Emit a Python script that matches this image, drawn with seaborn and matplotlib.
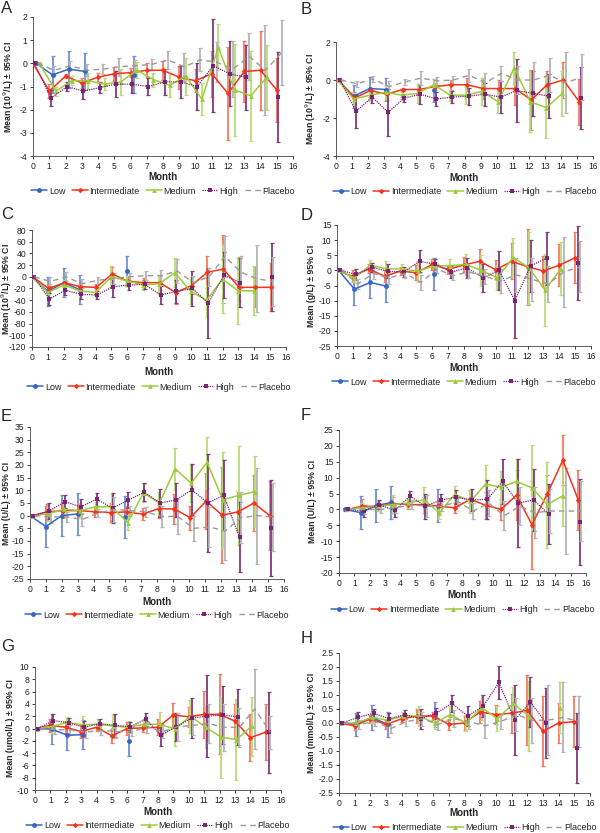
import numpy as np
import pandas as pd
import seaborn as sns
import matplotlib
matplotlib.use("Agg")
import matplotlib.pyplot as plt
from matplotlib.lines import Line2D

MONTHS = list(range(16))
SERIES = ["Low", "Intermediate", "Medium", "High", "Placebo"]
N = None

# ---- Panel A (10^9/L) ----
A_LOW = [0, -0.5, -0.25, -0.35, N, N, -0.5, N, N, N, N, N, N, N, N, N]
A_LOW_CI = [0, 0.8, 0.8, 0.8, N, N, 0.8, N, N, N, N, N, N, N, N, N]
A_INT = [0, -1.2, -0.55, -0.85, -0.6, -0.45, -0.4, -0.3, -0.3, -0.6, -0.75, -0.45, -1.3, -0.35, -0.3, -1.15]
A_INT_CI = [0, 0.3, 0.1, 0.2, 0.2, 0.3, 0.2, 0.3, 0.4, 0.5, 0.5, 1.0, 2.0, 1.3, 1.7, 1.4]
A_MED = [0, -1.2, -0.75, -0.75, -0.9, -0.8, -0.3, -0.7, -0.95, -0.55, -1.55, 0.7, -1.15, -1.4, -0.6, N]
A_MED_CI = [0, 0.2, 0.2, 0.35, 0.25, 0.55, 0.35, 0.3, 0.5, 0.8, 0.7, 1.0, 2.0, 1.95, 1.4, N]
A_HIGH = [0, -1.5, -1.0, -1.2, -1.05, -0.9, -0.9, -1.0, -0.8, -0.8, -1.0, -0.1, -0.45, -0.6, N, -1.45]
A_HIGH_CI = [0, 0.35, 0.2, 0.35, 0.25, 0.55, 0.4, 0.35, 0.55, 0.7, 1.0, 2.0, 1.4, 1.4, N, 1.95]
A_PLA = [0, -0.3, -0.1, -0.3, -0.25, -0.15, -0.1, -0.05, 0.15, -0.15, 0.15, 0.05, -0.25, 0.3, -0.3, 0.45]
A_PLA_CI = [0, 0.2, 0.2, 0.25, 0.2, 0.4, 0.25, 0.25, 0.4, 0.6, 0.5, 0.85, 1.2, 1.0, 1.95, 1.4]

# ---- Panel B (10^9/L) ----
B_LOW = [0, -0.85, -0.45, -0.5, N, N, -0.55, N, N, N, N, N, N, N, N, N]
B_LOW_CI = [0, 0.6, 0.6, 0.6, N, N, 0.6, N, N, N, N, N, N, N, N, N]
B_INT = [0, -0.95, -0.55, -0.75, -0.5, -0.5, -0.35, -0.25, -0.25, -0.45, -0.45, -0.45, -1.05, -0.25, 0.0, -1.15]
B_INT_CI = [0, 0.3, 0.15, 0.3, 0.1, 0.3, 0.2, 0.25, 0.35, 0.55, 0.45, 0.85, 1.6, 0.7, 0.95, 1.2]
B_MED = [0, -1.0, -0.8, -0.65, -0.8, -0.7, -0.25, -0.8, -0.8, -0.6, -1.15, 0.65, -1.15, -1.45, -0.7, N]
B_MED_CI = [0, 0.3, 0.3, 0.35, 0.2, 0.5, 0.3, 0.3, 0.45, 0.7, 0.6, 0.85, 1.6, 1.6, 1.2, N]
B_HIGH = [0, -1.65, -0.9, -1.7, -0.95, -0.75, -1.0, -0.9, -0.85, -0.75, -0.9, -0.55, -0.7, -0.85, N, -0.95]
B_HIGH_CI = [0, 0.85, 0.3, 1.25, 0.2, 0.5, 0.35, 0.3, 0.45, 0.6, 0.85, 1.65, 1.2, 1.15, N, 1.65]
B_PLA = [0, -0.2, 0.05, -0.35, -0.1, 0.1, -0.05, 0.0, 0.25, -0.15, 0.35, 0.0, 0.0, 0.25, -0.15, 0.15]
B_PLA_CI = [0, 0.15, 0.15, 0.3, 0.15, 0.35, 0.2, 0.2, 0.35, 0.5, 0.4, 0.75, 0.95, 0.9, 1.6, 1.2]

# ---- Panel C (10^9/L) ----
C_LOW = [0, -25, -10, -22, N, N, 10, N, N, N, N, N, N, N, N, N]
C_LOW_CI = [0, 25, 25, 25, N, N, 25, N, N, N, N, N, N, N, N, N]
C_INT = [0, -20, -10, -17, -18, 5, -8, -10, -10, -27, -15, 8, 13, -18, -18, -18]
C_INT_CI = [0, 8, 5, 5, 5, 12, 8, 8, 12, 20, 15, 28, 58, 24, 34, 41]
C_MED = [0, -27, -14, -24, -27, 0, -7, -14, -12, 7, -25, -40, -4, -24, -24, N]
C_MED_CI = [0, 10, 8, 10, 8, 18, 8, 8, 15, 25, 22, 28, 58, 57, 42, N]
C_HIGH = [0, -38, -23, -30, -31, -17, -14, -13, -31, -25, -20, -45, 3, -10, N, 0]
C_HIGH_CI = [0, 10, 8, 8, 7, 17, 9, 8, 16, 20, 30, 60, 40, 42, N, 58]
C_PLA = [0, -8, 0, -12, -6, -3, 0, 2, 2, 10, -10, 0, 35, 8, -3, -8]
C_PLA_CI = [0, 8, 8, 8, 6, 10, 6, 8, 10, 20, 12, 15, 35, 28, 58, 42]

# ---- Panel D (g/L) ----
D_LOW = [0, -6.2, -4, -5.2, N, N, -1.3, N, N, N, N, N, N, N, N, N]
D_LOW_CI = [0, 5.2, 5.2, 5.2, N, N, 5.3, N, N, N, N, N, N, N, N, N]
D_INT = [0, -2, 0.5, -2, -0.2, -0.8, 2, 0.3, 1.8, 3, 0.2, 3, 1.2, -0.2, 1.7, 4.2]
D_INT_CI = [0, 2, 1.5, 2, 1.2, 2.5, 1.8, 1.5, 2.5, 4, 3.2, 6, 12.5, 5, 7, 8.5]
D_MED = [0, -2.5, 1.8, 0.5, 0.5, -0.3, 1.5, 1.5, 2, 0, -2.5, 4.3, 0.8, -6.5, 0.5, N]
D_MED_CI = [0, 1.5, 1.7, 2.7, 1.5, 3.5, 2, 2.2, 3.5, 5, 4, 6.5, 12, 12, 8.8, N]
D_HIGH = [0, -1.3, 1, -0.3, -0.5, 3, 2, -0.5, 0.8, -2.5, 0, -10, 1.5, 4, N, 2.5]
D_HIGH_CI = [0, 1.8, 1.5, 2.3, 1.7, 3.7, 1.8, 2, 3.3, 4.5, 6.5, 12.5, 8.5, 8.8, N, 12.2]
D_PLA = [0, -4.5, -1, -2.5, -1, -4, 0.5, -1.8, -0.5, -2, -3.5, -1.5, -3, -4.5, -0.5, 1.2]
D_PLA_CI = [0, 1.5, 2, 2, 1.5, 2.5, 1.5, 1.5, 2, 2.5, 4, 5.5, 7, 6, 11.5, 8.5]

# ---- Panel E (U/L) ----
E_LOW = [0, -4.3, 0, 0.7, N, N, -0.5, N, N, N, N, N, N, N, N, N]
E_LOW_CI = [0, 8.2, 8.2, 8.2, N, N, 8.2, N, N, N, N, N, N, N, N, N]
E_INT = [0, 1.5, 2, 2, 1.5, 1.2, 1.5, 0.6, 2.8, 2.6, -0.8, 5.8, 0.2, 1.5, 5, 0]
E_INT_CI = [0, 3, 3, 3, 2, 3.8, 2.5, 2.5, 3.8, 6, 4.7, 11, 19, 8, 11, 13.5]
E_MED = [0, 0.8, 2.5, 2, 3.5, 3.5, -2.7, 9, 5, 18.5, 12.8, 21, 6.3, 8, 9.5, N]
E_MED_CI = [0, 3, 2.5, 3, 2, 5, 3, 3.5, 4.5, 8.3, 7.3, 10, 19, 19.5, 14, N]
E_HIGH = [0, 1.8, 5.5, 3.5, 6.5, 3, 6.2, 9.2, 5, 6.2, 10.2, 5, 8, -8.5, N, -5]
E_HIGH_CI = [0, 3.3, 2.5, 3, 2.5, 5.8, 3, 3.5, 5.5, 6.8, 10, 19.5, 13.8, 13.8, N, 19]
E_PLA = [0, -0.5, -0.5, -1.5, 1, 2.5, 2, 1.5, -0.3, -0.3, -5, -4.5, -6, -0.8, 0, -0.5]
E_PLA_CI = [0, 2.5, 2, 2.5, 1.5, 5, 2, 2, 4, 7, 5, 8, 11.5, 10, 19, 13.5]

# ---- Panel F (U/L) ----
F_LOW = [0, -1, 1.2, 2.2, N, N, 1.2, N, N, N, N, N, N, N, N, N]
F_LOW_CI = [0.5, 5.2, 5.2, 5.2, N, N, 5.2, N, N, N, N, N, N, N, N, N]
F_INT = [0, 1, 1, 1.8, 1.5, 1.5, 1, 0.5, 3.2, 1.3, 0, 4.5, -4.8, 5, 15.5, 3]
F_INT_CI = [0, 2.3, 1.5, 2.2, 1.5, 2.5, 2, 1.5, 2.8, 4.2, 3.2, 7.8, 13.8, 5.8, 7.8, 9.5]
F_MED = [0, 0.5, 1, 1.5, 2, 3, -1, 4.8, 2.5, 8, 7, 8.8, 6.8, 1.5, 4.3, N]
F_MED_CI = [0, 1.5, 1.5, 3, 1.5, 4, 2, 2.5, 3.5, 6, 5, 7, 13.5, 13.5, 9.5, N]
F_HIGH = [0, -0.5, 1.5, -0.3, 4.2, 1, 3, 3.8, 3, 3.2, 8.8, 2, 3, -1.5, N, -4]
F_HIGH_CI = [0, 2, 1.5, 2.2, 1.5, 4, 2, 2.2, 3.5, 6.2, 7, 13.8, 9.8, 9.5, N, 13.5]
F_PLA = [0, 0, 0, 0.5, 1.5, 1, 1, 2.5, -0.5, 2, -2, 1, -1, -0.5, -0.5, -0.5]
F_PLA_CI = [0, 1.5, 1, 1.5, 1.5, 3.5, 1.5, 1.5, 2.5, 4, 4.5, 6, 8, 7, 13.5, 9.5]

# ---- Panel G (umol/L) ----
G_LOW = [0, -0.1, -1.1, -1, N, N, -2.1, N, N, N, N, N, N, N, N, N]
G_LOW_CI = [0, 2.4, 2.4, 2.4, N, N, 2.4, N, N, N, N, N, N, N, N, N]
G_INT = [0, 0.5, 0.2, -0.5, 0.2, -1.2, 0, 0.1, 0.2, 2.2, 1.9, 2.3, 2.3, 1.2, -1.5, -0.6]
G_INT_CI = [0, 1, 1, 1, 0.6, 1.2, 1, 0.7, 1.3, 2, 1.6, 3.8, 6.5, 2.8, 3.8, 4.6]
G_MED = [0, 0.3, 1, 0.6, 0.7, 0.4, 0.2, 0.7, 0.7, -0.1, 2, 0.2, -1.4, -1.8, 0.4, N]
G_MED_CI = [0, 1, 0.8, 1.5, 0.8, 1.9, 1, 0.8, 2, 2.7, 2.7, 3.4, 6.6, 6.6, 4.8, N]
G_HIGH = [0, 1.3, 0.9, 0.2, 0.8, 0.5, 0.3, 1.5, -1.1, 0.3, 1.7, 2, 2.2, 1.9, N, -0.6]
G_HIGH_CI = [0, 1.1, 0.8, 1.1, 0.8, 1.9, 0.8, 1.1, 1.8, 2.3, 3.3, 6.7, 4.7, 4.6, N, 6.6]
G_PLA = [0, -0.2, -0.2, -0.6, -0.3, -0.5, -0.5, 0.3, -0.5, 0.3, 0.5, 0.8, 0.2, 0.2, 3.2, -0.6]
G_PLA_CI = [0, 0.7, 0.8, 1, 0.8, 1, 0.8, 1, 1, 2.3, 1.6, 3.2, 3.8, 3.2, 6.5, 2.7]

# ---- Panel H (mmol/L) ----
H_LOW = [0, -0.05, 0.2, -0.05, N, N, 0.3, N, N, N, N, N, N, N, N, N]
H_LOW_CI = [0, 0.4, 0.45, 0.45, N, N, 0.45, N, N, N, N, N, N, N, N, N]
H_INT = [0, -0.1, 0.15, -0.05, 0.15, 0.25, 0.25, -0.05, 0, 0.4, 0.3, 0.35, 0.45, -0.3, 0, 0.05]
H_INT_CI = [0, 0.15, 0.15, 0.15, 0.1, 0.25, 0.15, 0.2, 0.25, 0.4, 0.35, 0.7, 1.25, 1.25, 0.7, 0.9]
H_MED = [0, 0, 0.2, 0.1, 0.25, 0.25, 0, 0.3, 0, 0.55, 0.15, 0.7, 0.25, N, 0.55, N]
H_MED_CI = [0, 0.15, 0.2, 0.2, 0.15, 0.35, 0.2, 0.3, 0.3, 0.45, 0.45, 0.6, 1.25, N, 0.9, N]
H_HIGH = [0, 0.2, 0.35, 0.15, 0.3, 0.15, 0.35, 0.7, 0.25, 0.6, 1.45, 0.1, 0.75, 0, N, -0.9]
H_HIGH_CI = [0, 0.2, 0.15, 0.2, 0.15, 0.35, 0.2, 0.3, 0.35, 0.4, 0.6, 1.25, 0.9, 1.25, N, 1.25]
H_PLA = [0, -0.05, 0.05, -0.2, 0.05, 0.15, -0.05, 0.15, 0.05, -0.1, 0.05, 0.3, 0.1, 0.1, 0.2, 0.05]
H_PLA_CI = [0, 0.15, 0.15, 0.15, 0.15, 0.25, 0.2, 0.3, 0.25, 0.45, 0.25, 0.6, 0.8, 1.25, 1.25, 0.9]

UNIT_109 = "Mean (10$^9$/L) ± 95% CI"

# styling per series
COLORS = {"Low": "#3765c4", "Intermediate": "#f5341a", "Medium": "#9ccc3a",
          "High": "#7a2477", "Placebo": "#9a9a9a"}
ERR_COLORS = {"Low": "#6f8fd6", "Intermediate": "#f77a63", "Medium": "#b9dc78",
              "High": "#7f3a7c", "Placebo": "#b5b5b5"}
MARKERS = {"Low": "o", "Intermediate": "D", "Medium": "^", "High": "s", "Placebo": ""}
LSTYLE = {"Low": "-", "Intermediate": "-", "Medium": "-", "High": (0, (1, 0.8)), "Placebo": (0, (4, 3))}
MSIZE = {"Low": 3.5, "Intermediate": 2.8, "Medium": 3.5, "High": 3.2, "Placebo": 0}
LW = {"Low": 1.1, "Intermediate": 1.1, "Medium": 1.1, "High": 0.9, "Placebo": 1.0}


def panel(letter, series, ylabel, ylim, ystep, yfmt, box, offsets, letter_xy, ylabel_x, month_y, legend_y):
    x0, y0, x1, y1 = box
    ax = fig.add_axes([x0 / W, 1 - y1 / H, (x1 - x0) / W, (y1 - y0) / H])
    for name, (mean, ci) in zip(SERIES, series):
        xs = np.array(MONTHS, dtype=float) + offsets[name]
        m = np.array(mean, dtype=float)
        c = np.array(ci, dtype=float)
        ok = ~np.isnan(m)
        ax.errorbar(xs[ok], m[ok], yerr=c[ok], fmt="none", ecolor=ERR_COLORS[name],
                    elinewidth=1.3, capsize=1.6, capthick=0.9, zorder=1)
        # break the line where months are missing
        seg = np.cumsum(~ok)
        df = pd.DataFrame({"x": xs, "y": m, "seg": seg})[ok]
        sns.lineplot(data=df, x="x", y="y", units="seg", estimator=None, ax=ax,
                     color=COLORS[name], linestyle=LSTYLE[name], lw=LW[name],
                     marker=MARKERS[name] or None, markersize=MSIZE[name],
                     markeredgewidth=0, zorder=3, legend=False)
    ax.set_xlim(0, 16)
    ax.set_xticks(range(17))
    ax.set_ylim(*ylim)
    ax.set_yticks(np.arange(ylim[0], ylim[1] + ystep / 2, ystep))
    ax.yaxis.set_major_formatter(plt.FormatStrFormatter(yfmt))
    ax.tick_params(labelsize=6.2, length=2.5, width=0.6, pad=1.5, colors="#222222")
    for s in ["left", "bottom"]:
        ax.spines[s].set_linewidth(0.6)
        ax.spines[s].set_color("#444444")
    sns.despine(ax=ax)
    ax.set_ylabel(ylabel, fontsize=6.3, fontweight="bold")
    # ylabel_x is the right edge of the rotated label, in figure pixels
    ax.yaxis.set_label_coords((ylabel_x - x0) / (x1 - x0), 0.5)
    ax.set_xlabel("")
    fig.text((x0 + x1) / 2 / W, 1 - month_y / H, "Month", ha="center", va="center",
             fontsize=7, fontweight="bold")
    handles = [Line2D([], [], color=COLORS[n], linestyle=LSTYLE[n], lw=LW[n],
                      marker=MARKERS[n] or None, markersize=MSIZE[n], markeredgewidth=0)
               for n in SERIES]
    fig.legend(handles, SERIES, loc="center", bbox_to_anchor=((x0 + x1) / 2 / W, 1 - legend_y / H),
               ncol=5, frameon=False, fontsize=6.5, handlelength=1.8, handletextpad=0.15,
               columnspacing=0.7, borderaxespad=0, borderpad=0)
    fig.text(letter_xy[0] / W, 1 - letter_xy[1] / H, letter, fontsize=12, va="top", ha="left")
    return ax


W, H = 600, 833
sns.set_style("ticks")
plt.rcParams["font.family"] = ["Liberation Sans", "DejaVu Sans"]
fig = plt.figure(figsize=(6, 8.33), dpi=100)
fig.patch.set_facecolor("white")

panel("A", [(A_LOW, A_LOW_CI), (A_INT, A_INT_CI), (A_MED, A_MED_CI), (A_HIGH, A_HIGH_CI), (A_PLA, A_PLA_CI)],
      UNIT_109, (-4, 2), 1, "%d", (33, 17, 293, 156),
      {"Low": 0.2, "Intermediate": 0.0, "Medium": 0.4, "High": 0.1, "Placebo": 0.3}, (1, 1), 16, 177, 191)
panel("B", [(B_LOW, B_LOW_CI), (B_INT, B_INT_CI), (B_MED, B_MED_CI), (B_HIGH, B_HIGH_CI), (B_PLA, B_PLA_CI)],
      UNIT_109, (-4, 2), 2, "%d", (336, 42, 593, 156),
      {"Low": 0.1, "Intermediate": 0.15, "Medium": 0.1, "High": 0.25, "Placebo": 0.3}, (301, 2), 318, 178, 192)
panel("C", [(C_LOW, C_LOW_CI), (C_INT, C_INT_CI), (C_MED, C_MED_CI), (C_HIGH, C_HIGH_CI), (C_PLA, C_PLA_CI)],
      UNIT_109, (-120, 80), 20, "%d", (32, 230, 286, 347),
      {"Low": 0.0, "Intermediate": 0.05, "Medium": 0.0, "High": 0.1, "Placebo": 0.15}, (1, 207), 14, 372, 387)
panel("D", [(D_LOW, D_LOW_CI), (D_INT, D_INT_CI), (D_MED, D_MED_CI), (D_HIGH, D_HIGH_CI), (D_PLA, D_PLA_CI)],
      "Mean (g/L) ± 95% CI", (-25, 15), 5, "%d", (337, 225, 591, 346),
      {"Low": 0.1, "Intermediate": 0.0, "Medium": 0.1, "High": 0.2, "Placebo": 0.3}, (301, 208), 316, 368, 382)
panel("E", [(E_LOW, E_LOW_CI), (E_INT, E_INT_CI), (E_MED, E_MED_CI), (E_HIGH, E_HIGH_CI), (E_PLA, E_PLA_CI)],
      "Mean (U/L) ± 95% CI", (-25, 35), 5, "%d", (30, 427, 284, 579),
      {"Low": 0.0, "Intermediate": 0.1, "Medium": 0.15, "High": 0.2, "Placebo": 0.3}, (1, 409), 11, 602, 615)
panel("F", [(F_LOW, F_LOW_CI), (F_INT, F_INT_CI), (F_MED, F_MED_CI), (F_HIGH, F_HIGH_CI), (F_PLA, F_PLA_CI)],
      "Mean (U/L) ± 95% CI", (-20, 25), 5, "%d", (339, 430, 586, 573),
      {"Low": 0.4, "Intermediate": 0.5, "Medium": 0.5, "High": 0.6, "Placebo": 0.7}, (301, 408), 317, 595, 610)
panel("G", [(G_LOW, G_LOW_CI), (G_INT, G_INT_CI), (G_MED, G_MED_CI), (G_HIGH, G_HIGH_CI), (G_PLA, G_PLA_CI)],
      "Mean (umol/L) ± 95% CI", (-10, 10), 2, "%d", (35, 667, 281, 790),
      {"Low": 0.1, "Intermediate": 0.0, "Medium": 0.1, "High": 0.2, "Placebo": 0.3}, (1, 639), 15, 812, 826)
panel("H", [(H_LOW, H_LOW_CI), (H_INT, H_INT_CI), (H_MED, H_MED_CI), (H_HIGH, H_HIGH_CI), (H_PLA, H_PLA_CI)],
      "Mean (mmol/L) ± 95% CI", (-2.5, 2.5), 0.5, "%.1f", (339, 653, 590, 793),
      {"Low": 0.1, "Intermediate": 0.0, "Medium": 0.1, "High": 0.2, "Placebo": 0.3}, (301, 631), 316, 813, 828)

fig.savefig("out.png", dpi=100, facecolor="white")
